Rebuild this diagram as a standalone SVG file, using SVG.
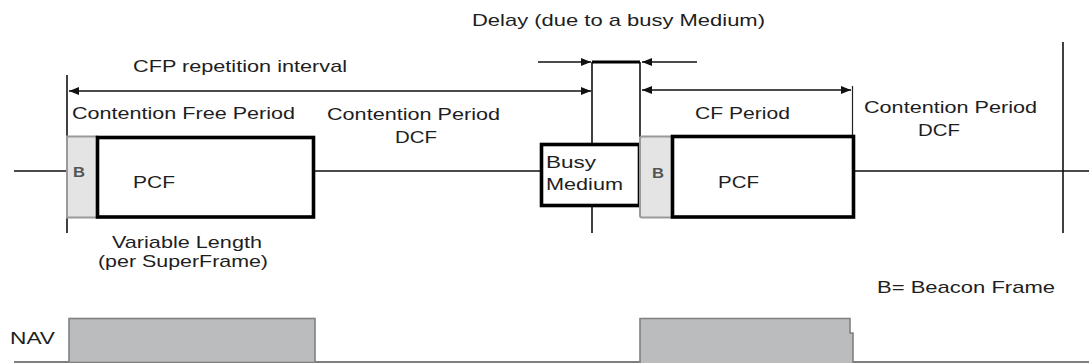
<svg xmlns="http://www.w3.org/2000/svg" width="1089" height="363" viewBox="0 0 1089 363">
<style>
text{font-family:"Liberation Sans",Arial,sans-serif;font-size:17px;fill:#1e1e1e}
.ln{stroke:#111;stroke-width:1.6;fill:none}
.thin{stroke:#222;stroke-width:1.2;fill:none}
.bk{fill:#fff;stroke:#000;stroke-width:3.6}
.bcn{fill:#e4e4e4;stroke:#9a9a9a;stroke-width:2}
.bt{fill:#555;font-weight:bold;font-size:15px}
.nav{fill:#bbbcbe;stroke:#808080;stroke-width:1.6}
</style>
<defs>
<marker id="ah" markerUnits="userSpaceOnUse" markerWidth="11" markerHeight="9" refX="10" refY="4.5" orient="auto-start-reverse">
<path d="M0,0.5 L10,4.5 L0,8.5 z" fill="#111"/>
</marker>
</defs>
<g id="connectors">
<line class="ln" x1="14" y1="171" x2="67" y2="171"/>
<line class="ln" x1="315" y1="171" x2="541" y2="171"/>
<line class="ln" x1="854" y1="171" x2="1089" y2="171"/>
<line class="ln" x1="67" y1="75" x2="67" y2="233" stroke-width="2"/>
<line class="ln" x1="592" y1="62" x2="592" y2="143"/>
<line class="ln" x1="592" y1="207" x2="592" y2="233"/>
<line class="ln" x1="640" y1="62" x2="640" y2="137"/>
<line class="thin" x1="852.5" y1="86" x2="852.5" y2="136"/>
<line class="ln" x1="1063" y1="42" x2="1063" y2="233" stroke-width="2.6"/>
<line class="ln" x1="69" y1="91" x2="591" y2="91" marker-start="url(#ah)" marker-end="url(#ah)"/>
<line class="ln" x1="642" y1="90" x2="851" y2="90" marker-start="url(#ah)" marker-end="url(#ah)"/>
<line class="ln" x1="538" y1="62" x2="591" y2="62" marker-end="url(#ah)"/>
<line class="ln" x1="697" y1="62" x2="642" y2="62" marker-end="url(#ah)"/>
<line x1="592" y1="62" x2="640" y2="62" stroke="#000" stroke-width="3"/>
<line x1="14" y1="362" x2="1089" y2="362" stroke="#555" stroke-width="1.5"/>
</g>
<g id="beacon1">
<rect class="bcn" x="67" y="136.5" width="30" height="81"/>
<text class="bt" x="73" y="177" textLength="12" lengthAdjust="spacingAndGlyphs">B</text>
</g>
<g id="pcf1">
<rect class="bk" x="97.5" y="137.5" width="216" height="79.5"/>
<text x="133" y="188" textLength="42" lengthAdjust="spacingAndGlyphs">PCF</text>
</g>
<g id="busy">
<rect class="bk" x="541.5" y="144.5" width="98" height="61"/>
<text x="546" y="168" textLength="50" lengthAdjust="spacingAndGlyphs">Busy</text>
<text x="546" y="190" textLength="77" lengthAdjust="spacingAndGlyphs">Medium</text>
</g>
<g id="beacon2">
<rect class="bcn" x="640" y="136.5" width="32" height="81" rx="2"/>
<text class="bt" x="652" y="178" textLength="12" lengthAdjust="spacingAndGlyphs">B</text>
</g>
<g id="pcf2">
<rect class="bk" x="672.5" y="136.5" width="181" height="80.5"/>
<text x="718" y="188" textLength="41" lengthAdjust="spacingAndGlyphs">PCF</text>
</g>
<g id="nav">
<text x="10" y="344" textLength="45" lengthAdjust="spacingAndGlyphs">NAV</text>
<rect class="nav" x="69" y="318.5" width="246" height="44"/>
<path class="nav" d="M640,363 L640,318.5 L850,318.5 L850,333 L853,333 L853,363"/>
</g>
<g id="labels">
<text x="472" y="26" textLength="293" lengthAdjust="spacingAndGlyphs">Delay (due to a busy Medium)</text>
<text x="133" y="72" textLength="214" lengthAdjust="spacingAndGlyphs">CFP repetition interval</text>
<text x="72" y="119" textLength="223" lengthAdjust="spacingAndGlyphs">Contention Free Period</text>
<text x="327" y="120" textLength="173" lengthAdjust="spacingAndGlyphs">Contention Period</text>
<text x="395" y="143" textLength="42" lengthAdjust="spacingAndGlyphs">DCF</text>
<text x="695" y="119" textLength="95" lengthAdjust="spacingAndGlyphs">CF Period</text>
<text x="864" y="113" textLength="173" lengthAdjust="spacingAndGlyphs">Contention Period</text>
<text x="918" y="136" textLength="42" lengthAdjust="spacingAndGlyphs">DCF</text>
<text x="112" y="248" textLength="150" lengthAdjust="spacingAndGlyphs">Variable Length</text>
<text x="98" y="267" textLength="170" lengthAdjust="spacingAndGlyphs">(per SuperFrame)</text>
<text x="877" y="293" textLength="178" lengthAdjust="spacingAndGlyphs">B= Beacon Frame</text>
</g>
</svg>
